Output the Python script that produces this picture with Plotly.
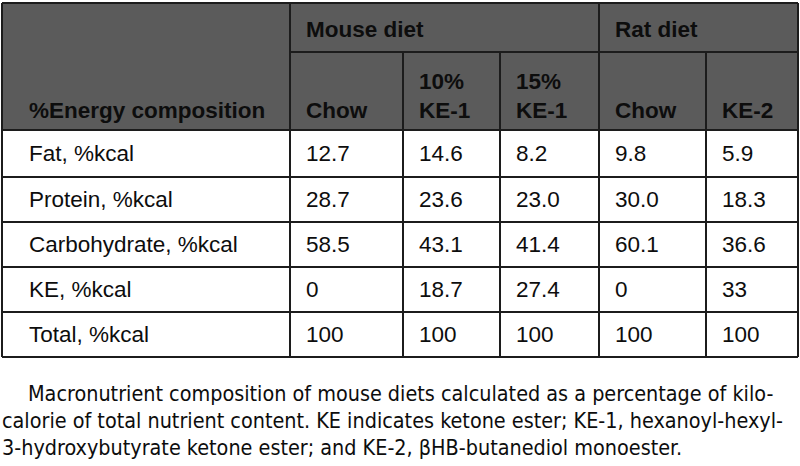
import plotly.graph_objects as go

# ---------------- data ----------------
row_labels = ["Fat, %kcal", "Protein, %kcal", "Carbohydrate, %kcal", "KE, %kcal", "Total, %kcal"]
group_labels = ["Mouse diet", "Rat diet"]
column_labels = ["Chow", "10%<br>KE-1", "15%<br>KE-1", "Chow", "KE-2"]
corner_label = "%Energy composition"
mouse_chow = [12.7, 28.7, 58.5, 0, 100]
mouse_ke1_10 = [14.6, 23.6, 43.1, 18.7, 100]
mouse_ke1_15 = [8.2, 23.0, 41.4, 27.4, 100]
rat_chow = [9.8, 30.0, 60.1, 0, 100]
rat_ke2 = [5.9, 18.3, 36.6, 33, 100]
caption_lines = [
    "Macronutrient composition of mouse diets calculated as a percentage of kilo-",
    "calorie of total nutrient content. KE indicates ketone ester; KE-1, hexanoyl-hexyl-",
    "3-hydroxybutyrate ketone ester; and KE-2, \u03b2HB-butanediol monoester.",
]

columns = [mouse_chow, mouse_ke1_10, mouse_ke1_15, rat_chow, rat_ke2]

# ---------------- layout geometry ----------------
W, H = 800, 466
col_x = [2, 290, 403, 500, 599, 706, 798]   # column boundaries
top, mid_hdr, hdr_bot = 3, 52, 130
row_y = [130, 177, 222, 267, 312, 357]
group_spans = [(1, 4), (4, 6)]  # column-boundary index ranges
pad = 14
hdr_bg = "#5b5b5b"
line_c = "#1c1c1c"
txt_c = "#0d0d0d"
font_main = "Liberation Sans, Arial, Helvetica, sans-serif"
font_cap = "Liberation Sans Narrow, Arial Narrow, DejaVu Sans Condensed, sans-serif"
fs = 22.5

fig = go.Figure()
fig.add_trace(go.Scatter(x=[0, W], y=[0, H], mode="markers", marker=dict(opacity=0), hoverinfo="skip", showlegend=False))

shapes = []
# header background
shapes.append(dict(type="rect", xref="x", yref="y", x0=col_x[0], x1=col_x[-1], y0=top, y1=hdr_bot,
                   fillcolor=hdr_bg, line=dict(width=0), layer="below"))
def hline(x0, x1, y, w=2):
    shapes.append(dict(type="line", xref="x", yref="y", x0=x0, x1=x1, y0=y, y1=y, line=dict(color=line_c, width=w)))
def vline(x, y0, y1, w=2):
    shapes.append(dict(type="line", xref="x", yref="y", x0=x, x1=x, y0=y0, y1=y1, line=dict(color=line_c, width=w)))

hline(col_x[0], col_x[-1], top)
hline(col_x[1], col_x[-1], mid_hdr)
for y in row_y:
    hline(col_x[0], col_x[-1], y)
vline(col_x[0], top, row_y[-1])
vline(col_x[-1], top, row_y[-1])
vline(col_x[1], top, row_y[-1])
vline(col_x[4], top, row_y[-1])
for i in (2, 3, 5):
    vline(col_x[i], mid_hdr, row_y[-1])

ann = []
def text(x, y, s, bold=False, size=fs, family=font_main, yanchor="middle"):
    ann.append(dict(xref="x", yref="y", x=x, y=y, text=("<b>%s</b>" % s) if bold else s,
                    showarrow=False, xanchor="left", yanchor=yanchor, align="left",
                    font=dict(family=family, size=size, color=txt_c)))

# group headers
for (a, b), g in zip(group_spans, group_labels):
    text(col_x[a] + pad, (top + mid_hdr) / 2 + 2, g, bold=True)
# corner label
text(col_x[0] + 25, 110, corner_label, bold=True)
# column headers (bottom aligned)
for i, lab in enumerate(column_labels):
    parts = lab.split("<br>")
    for k, p in enumerate(reversed(parts)):
        text(col_x[i + 1] + pad, 110 - 29 * k, p, bold=True)
# body
for r, lab in enumerate(row_labels):
    yc = (row_y[r] + row_y[r + 1]) / 2
    text(col_x[0] + 25, yc, lab)
    for c, vals in enumerate(columns):
        text(col_x[c + 1] + pad, yc, str(vals[r]))
# caption
cap_y = [393, 420, 447]
cap_x = [26, 0, 0]
for s, x, y in zip(caption_lines, cap_x, cap_y):
    text(x, y, s, size=21.4, family=font_cap)

fig.update_layout(
    width=W, height=H, margin=dict(l=0, r=0, t=0, b=0),
    paper_bgcolor="white", plot_bgcolor="white",
    xaxis=dict(range=[0, W], visible=False, fixedrange=True),
    yaxis=dict(range=[H, 0], visible=False, fixedrange=True),
    shapes=shapes, annotations=ann, showlegend=False,
)
fig.write_html("out.html", config={"displayModeBar": False, "staticPlot": True},
               post_script="document.body.style.margin='0';document.body.style.overflow='hidden';")
